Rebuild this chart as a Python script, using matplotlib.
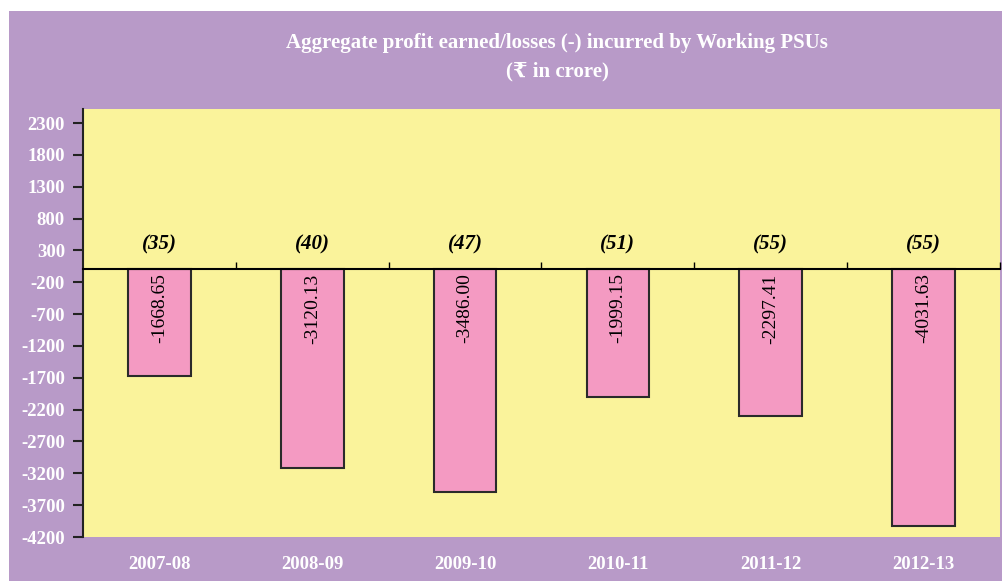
import numpy as np
import matplotlib
matplotlib.use('Agg')
import matplotlib.pyplot as plt
from matplotlib.patches import Rectangle
import matplotlib.transforms as mtransforms

# data
years = ['2007-08', '2008-09', '2009-10', '2010-11', '2011-12', '2012-13']
losses = [-1668.65, -3120.13, -3486.00, -1999.15, -2297.41, -4031.63]
psu_counts = ['(35)', '(40)', '(47)', '(51)', '(55)', '(55)']
y_ticks = list(range(-4200, 2301, 500))

purple = '#B89AC8'
yellow = '#FAF39B'
pink = '#F49AC2'
serif = ['Liberation Serif', 'DejaVu Serif', 'DejaVu Sans']

fig = plt.figure(figsize=(10.02, 5.81), dpi=100)
fig.patch.set_facecolor('white')
fig.patches.append(Rectangle((9 / 1002, 0), 1 - 9 / 1002, (581 - 11) / 581,
                             transform=fig.transFigure, facecolor=purple,
                             edgecolor='none', zorder=-10))

ax = fig.add_axes([83 / 1002, 44 / 581, 917 / 1002, 428 / 581])
ax.set_zorder(1)
ax.set_facecolor(yellow)

x = np.arange(len(years))
ax.bar(x, losses, width=0.41, color=pink, edgecolor='#2a2a2a', linewidth=1.5, zorder=3)

ax.set_xlim(-0.5, 5.5)
ax.set_ylim(-4200, 2520)

# y axis
ax.set_yticks(y_ticks)
ax.set_yticklabels([str(v) for v in y_ticks], family=serif, fontweight='bold',
                   fontsize=13.5, color='white')
ax.tick_params(axis='y', direction='out', length=7, width=1.5, color='#222222', pad=6)
ax.spines['left'].set_color('#222222')
ax.spines['left'].set_linewidth(1.5)
ax.spines['top'].set_visible(False)
ax.spines['right'].set_visible(False)

# x axis line at zero with small ticks between categories
ax.spines['bottom'].set_position(('data', 0))
ax.spines['bottom'].set_color('black')
ax.spines['bottom'].set_linewidth(1.5)
ax.spines['bottom'].set_zorder(4)
ax.set_xticks(np.arange(0.5, 5.6, 1.0))
ax.set_xticklabels([])
ax.tick_params(axis='x', direction='in', length=5, width=1, color='black')

trans = mtransforms.blended_transform_factory(ax.transData, ax.transAxes)
for i, yr in enumerate(years):
    ax.text(i, -0.065, yr, transform=trans, ha='center', va='center',
            family=serif, fontweight='bold', fontsize=13.5, color='white')

# value labels inside bars and PSU counts above the zero line
for i, (v, c) in enumerate(zip(losses, psu_counts)):
    ax.text(i, -60, f'{v:.2f}', rotation=90, ha='center', va='top',
            family=serif, fontsize=14, color='black', zorder=5)
    ax.text(i, 390, c, ha='center', va='center', family=serif,
            fontweight='bold', fontstyle='italic', fontsize=15, color='black')

fig.text(557 / 1002, 1 - 43 / 581, 'Aggregate profit earned/losses (-) incurred by Working PSUs',
         ha='center', va='center', family=serif, fontweight='bold', fontsize=15, color='white')
fig.text(557 / 1002, 1 - 71 / 581, '(₹ in crore)',
         ha='center', va='center', family=serif, fontweight='bold', fontsize=15, color='white')

fig.savefig('out.png', dpi=100, facecolor=fig.get_facecolor())
